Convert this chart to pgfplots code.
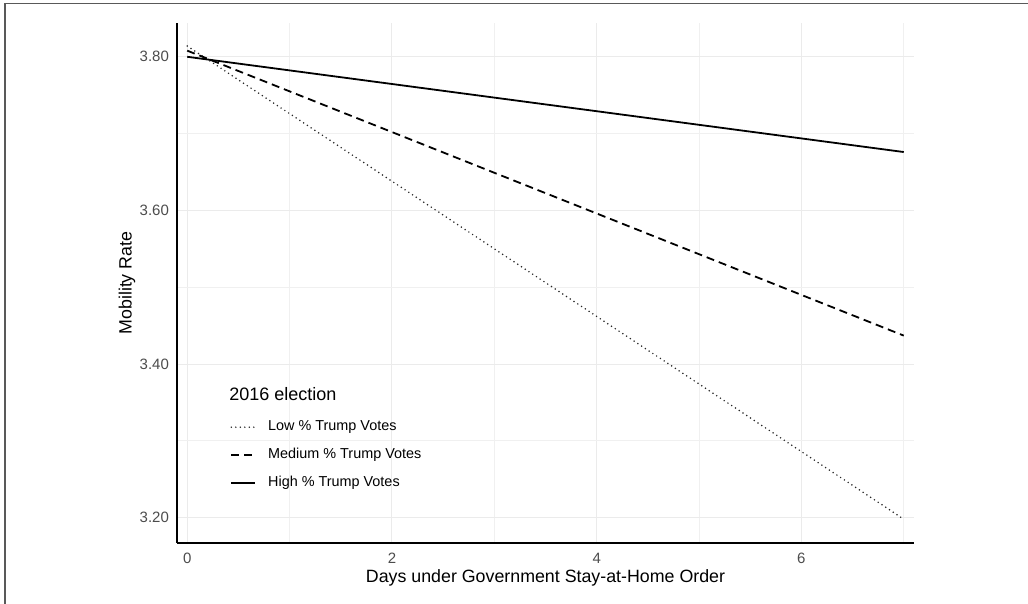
\documentclass[border=0pt]{standalone}
\usepackage{fontspec}
\setmainfont{Liberation Sans}
\usepackage{pgfplots}
\pgfplotsset{compat=1.18}
\begin{document}
\begin{tikzpicture}
\useasboundingbox (-88.5pt,-30.5pt) rectangle (425.5pt,271.5pt);
\draw[color=black!65, line width=0.8pt] (-86pt,-31pt) -- (-86pt,269.75pt) -- (426pt,269.75pt);
\begin{axis}[
  at={(0,0)}, anchor=south west,
  scale only axis, width=368.5pt, height=260pt,
  xmin=-0.1, xmax=7.1, ymin=3.167, ymax=3.844,
  axis x line*=bottom, axis y line*=left,
  axis line style={-, black, line width=0.8pt},
  xtick={0,2,4,6}, minor xtick={1,3,5,7},
  ytick={3.2,3.4,3.6,3.8}, minor ytick={3.3,3.5,3.7},
  grid=both,
  major grid style={black!8, line width=0.5pt},
  minor grid style={black!6, line width=0.45pt},
  major tick length=0pt, minor tick length=0pt,
  /pgf/number format/assume math mode=true,
  tick label style={font=\fontsize{7.5}{8.5}\selectfont, color=black!70},
  yticklabel style={/pgf/number format/fixed, /pgf/number format/precision=2, /pgf/number format/fixed zerofill, xshift=-0.5pt},
  xticklabel style={yshift=-1.5pt},
  xlabel={Days under Government Stay-at-Home Order},
  ylabel={Mobility Rate},
  label style={font=\fontsize{8.9}{10}\selectfont},
  xlabel style={at={(axis description cs:0.5,0)}, anchor=center, yshift=-17.5pt},
  ylabel style={at={(axis description cs:-0.0678,0.5)}, anchor=center},
  legend image code/.code={\draw[#1] (0pt,0pt) -- (12pt,0pt);},
  legend style={at={(rel axis cs:0.0719,0.169)}, anchor=west, draw=none, fill=none,
    font=\fontsize{7.2}{8}\selectfont, inner sep=0pt, row sep=5.25pt,
    nodes={inner sep=1pt}, column sep=5pt},
  legend cell align=left,
]
\addplot[black!85, line width=0.85pt, line cap=round, dash pattern=on 0pt off 2.25pt] coordinates {(0,3.814) (7,3.198)};
\addlegendentry{Low \% Trump Votes}
\addplot[black, line width=0.9pt, dash pattern=on 4pt off 2.5pt] coordinates {(0,3.808) (7,3.437)};
\addlegendentry{Medium \% Trump Votes}
\addplot[black, line width=0.9pt] coordinates {(0,3.800) (7,3.676)};
\addlegendentry{High \% Trump Votes}
\node[anchor=west, inner sep=0pt, font=\fontsize{9}{10}\selectfont] at (rel axis cs:0.0706,0.2865) {2016 election};
\end{axis}
\end{tikzpicture}
\end{document}
